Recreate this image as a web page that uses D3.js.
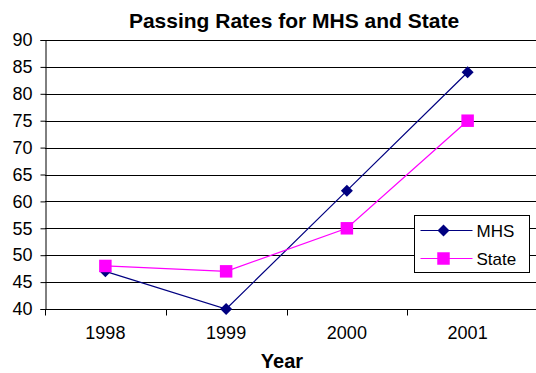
<!DOCTYPE html>
<html>
<head>
<meta charset="utf-8">
<script src="https://cdn.jsdelivr.net/npm/d3@7"></script>
<style>
  body { margin: 0; background: #fff; }
  svg { display: block; font-family: Arial, "Liberation Sans", sans-serif; }
</style>
</head>
<body>
<svg id="chart" width="536" height="373"></svg>
<script>
const years = ['1998', '1999', '2000', '2001'];
const mhsValues = [47, 40, 62, 84];
const stateValues = [48, 47, 55, 75];
const yTicks = [40, 45, 50, 55, 60, 65, 70, 75, 80, 85, 90];

const series = [
    { name: 'MHS', values: mhsValues, color: '#000080', symbol: d3.symbolSquare, size: 72, rotate: 45 },
    { name: 'State', values: stateValues, color: '#ff00ff', symbol: d3.symbolSquare, size: 156, rotate: 0 }
];

const svg = d3.select('#chart');
const width = 536;
const font = 'Arial, "Liberation Sans", sans-serif';
const margin = { top: 40, left: 45, bottom: 309, right: 528 };

const x = d3.scaleBand().domain(years).range([margin.left, margin.right]);
const y = d3.scaleLinear().domain([40, 90]).range([margin.bottom, margin.top]);

// Title
svg.append('text')
    .attr('x', 294)
    .attr('y', 28)
    .attr('text-anchor', 'middle')
    .attr('font-weight', 'bold')
    .attr('font-size', '21px')
    .text('Passing Rates for MHS and State');

// Gridlines
svg.append('g')
    .selectAll('line')
    .data(yTicks)
    .join('line')
    .attr('x1', margin.left)
    .attr('x2', width)
    .attr('y1', d => Math.round(y(d)) + 0.5)
    .attr('y2', d => Math.round(y(d)) + 0.5)
    .attr('stroke', '#000');

// Y-axis
const yAxis = svg.append('g')
    .attr('transform', `translate(${margin.left + 0.5},0)`)
    .call(d3.axisLeft(y).tickValues(yTicks).tickSize(5).tickPadding(8));
yAxis.select('.domain').attr('stroke', '#000');
yAxis.selectAll('text').attr('font-size', '18px').attr('font-family', font).attr('fill', '#000');

// X-axis with ticks at band edges
const xAxis = svg.append('g')
    .attr('transform', `translate(0,${Math.round(y(40)) + 0.5})`);
xAxis.append('line')
    .attr('x1', margin.left)
    .attr('x2', width)
    .attr('stroke', '#000');
const edges = years.map(d => x(d));
xAxis.selectAll('.edge')
    .data(edges)
    .join('line')
    .attr('class', 'edge')
    .attr('x1', d => Math.round(d) + 0.5)
    .attr('x2', d => Math.round(d) + 0.5)
    .attr('y1', 0)
    .attr('y2', 6)
    .attr('stroke', '#000');
xAxis.selectAll('.lbl')
    .data(years)
    .join('text')
    .attr('class', 'lbl')
    .attr('x', d => x(d) + x.bandwidth() / 2)
    .attr('y', 29)
    .attr('text-anchor', 'middle')
    .attr('font-size', '18px')
    .text(d => d);

svg.append('text')
    .attr('x', 282)
    .attr('y', 368)
    .attr('text-anchor', 'middle')
    .attr('font-weight', 'bold')
    .attr('font-size', '20px')
    .text('Year');

// Lines and markers
const line = d3.line()
    .x((d, i) => x(years[i]) + x.bandwidth() / 2)
    .y(d => y(d));

series.forEach(s => {
    svg.append('path')
        .datum(s.values)
        .attr('fill', 'none')
        .attr('stroke', s.color)
        .attr('stroke-width', 1.2)
        .attr('d', line);
});
series.forEach(s => {
    svg.append('g')
        .selectAll('path')
        .data(s.values)
        .join('path')
        .attr('transform', (d, i) => `translate(${x(years[i]) + x.bandwidth() / 2},${y(d)}) rotate(${s.rotate})`)
        .attr('d', d3.symbol().type(s.symbol).size(s.size))
        .attr('fill', s.color);
});

// Legend
const legend = svg.append('g').attr('transform', 'translate(414.5,215.5)');
legend.append('rect')
    .attr('width', 115)
    .attr('height', 57)
    .attr('fill', '#fff')
    .attr('stroke', '#000');
series.forEach((s, i) => {
    const cy = 15 + i * 28;
    legend.append('line')
        .attr('x1', 6).attr('x2', 58)
        .attr('y1', cy).attr('y2', cy)
        .attr('stroke', s.color)
        .attr('stroke-width', 1.2);
    legend.append('path')
        .attr('transform', `translate(29,${cy}) rotate(${s.rotate})`)
        .attr('d', d3.symbol().type(s.symbol).size(s.size))
        .attr('fill', s.color);
    legend.append('text')
        .attr('x', 62)
        .attr('y', cy + 6)
        .attr('font-size', '17px')
        .text(s.name);
});
</script>
</body>
</html>
